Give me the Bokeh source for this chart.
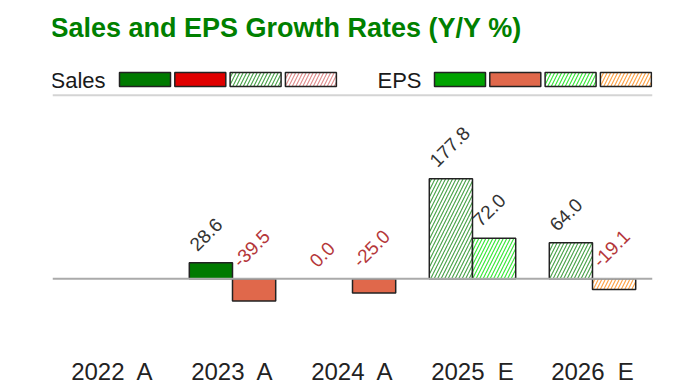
import math
from bokeh.plotting import figure
from bokeh.models import (ColumnDataSource, Range1d, FactorRange, Span, Label,
                          BoxAnnotation)
from bokeh.transform import dodge
from bokeh.core.properties import value
from bokeh.embed import file_html
from bokeh.resources import INLINE

# ---------------- data ----------------
title_text = "Sales and EPS Growth Rates (Y/Y %)"
years = ["2022", "2023", "2024", "2025", "2026"]
kinds = ["A", "A", "A", "E", "E"]          # A = actual, E = estimate
sales_growth = [None, 28.6, 0.0, 177.8, 64.0]
eps_growth = [None, -39.5, -25.0, 72.0, -19.1]
series_names = ["Sales", "EPS"]
y_min, y_max = -90, 494
separator_y = 326

categories = [f"{y}\u00a0 {k}" for y, k in zip(years, kinds)]

FONT = "Liberation Sans"
BAR_W = 0.36
OFFSETS = {"Sales": -BAR_W / 2, "EPS": BAR_W / 2}
HATCH = dict(hatch_pattern="/", hatch_scale=7, hatch_weight=1.1)

STYLES = {
    "Sales": [
        ("A", "pos", dict(fill_color="#007a00")),
        ("A", "neg", dict(fill_color="#e00000")),
        ("E", "pos", dict(fill_color="white", hatch_color="#44a044", **HATCH)),
        ("E", "neg", dict(fill_color="white", hatch_color="#e08a8a", **HATCH)),
    ],
    "EPS": [
        ("A", "pos", dict(fill_color="#00a300")),
        ("A", "neg", dict(fill_color="#e0684b")),
        ("E", "pos", dict(fill_color="white", hatch_color="#33e633", **HATCH)),
        ("E", "neg", dict(fill_color="white", hatch_color="#ffa040", **HATCH)),
    ],
}

p = figure(width=700, height=387, x_range=FactorRange(*categories, range_padding=0),
           y_range=Range1d(y_min, y_max), output_backend="svg", toolbar_location=None,
           min_border_left=52, min_border_right=48, min_border_top=0, min_border_bottom=57)
p.x_range.factor_padding = 0
p.outline_line_color = None
p.grid.visible = False
p.yaxis.visible = False
p.xaxis.axis_line_color = None
p.xaxis.major_tick_line_color = None
p.xaxis.minor_tick_line_color = None
p.xaxis.major_tick_out = 0
p.xaxis.major_tick_in = 0
p.xaxis.major_label_standoff = 28
p.xaxis.major_label_text_font = FONT
p.xaxis.major_label_text_font_size = "24px"
p.xaxis.major_label_text_color = "#222222"


def subset(vals, kind, sign):
    xs, tops = [], []
    for c, k, v in zip(categories, kinds, vals):
        if v is None or v == 0 or k != kind:
            continue
        if (v > 0) == (sign == "pos"):
            xs.append(c)
            tops.append(v)
    return ColumnDataSource(dict(x=xs, top=tops))


data = {"Sales": sales_growth, "EPS": eps_growth}
for name in series_names:
    for kind, sign, style in STYLES[name]:
        src = subset(data[name], kind, sign)
        p.vbar(x=dodge("x", OFFSETS[name], range=p.x_range), top="top", bottom=0,
               width=BAR_W, source=src, line_color="#222222", line_width=1.5, **style)

# value labels
for name in series_names:
    xs, ys, texts, colors = [], [], [], []
    for c, v in zip(categories, data[name]):
        if v is None:
            continue
        xs.append(c)
        ys.append(max(v, 0))
        texts.append(f"{v:.1f}")
        colors.append("#333333" if v > 0 else "#b5373a")
    src = ColumnDataSource(dict(x=xs, y=ys, text=texts, color=colors))
    p.text(x=dodge("x", OFFSETS[name], range=p.x_range), y="y", text="text", source=src,
           angle=math.pi / 4, text_align="left", text_baseline="alphabetic",
           x_offset=-18, y_offset=-15, text_color="color",
           text_font=value(FONT), text_font_size="19px")

p.add_layout(Span(location=0, dimension="width", line_color="#aaaaaa", line_width=2))
p.add_layout(Span(location=separator_y, dimension="width", line_color="#d4d4d4", line_width=2))

# legend row (screen units, measured from the frame's bottom-left corner)
SWATCH_W, SWATCH_H, SWATCH_PITCH = 51, 14, 55.3
legend_label_x = {"Sales": -2, "EPS": 325}
legend_swatch_x = {"Sales": 67, "EPS": 382}
legend_y = 243
for name in series_names:
    p.add_layout(Label(x=legend_label_x[name], y=legend_y + 6, x_units="screen",
                       y_units="screen", text=name, text_font=FONT,
                       text_font_size="22px", text_color="#1a1a1a",
                       text_baseline="alphabetic"))
    for i, (kind, sign, style) in enumerate(STYLES[name]):
        left = legend_swatch_x[name] + i * SWATCH_PITCH
        p.add_layout(BoxAnnotation(left=left, right=left + SWATCH_W,
                                   bottom=legend_y, top=legend_y + SWATCH_H,
                                   left_units="screen", right_units="screen",
                                   bottom_units="screen", top_units="screen",
                                   fill_alpha=1, line_alpha=1, line_color="#222222",
                                   line_width=1.5, **style))

p.add_layout(Label(x=-2, y=302, x_units="screen", y_units="screen", text=title_text,
                   text_font=FONT, text_font_size="27px", text_font_style="bold",
                   text_color="#008000", text_baseline="alphabetic"))

open("out.html", "w").write(file_html(p, INLINE))
